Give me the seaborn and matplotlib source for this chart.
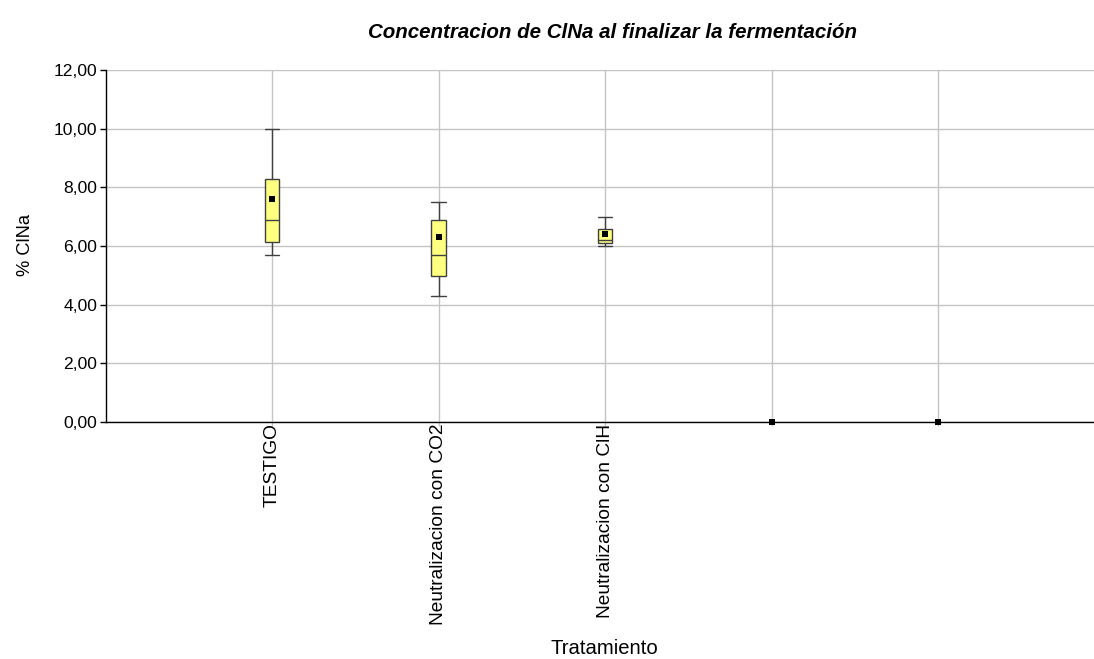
import matplotlib
matplotlib.use("Agg")
import matplotlib.pyplot as plt
import seaborn as sns
import pandas as pd

# Summary statistics per treatment
categories = ["TESTIGO", "Neutralizacion con CO2", "Neutralizacion con ClH", "", ""]
whisker_low = [5.70, 4.31, 6.01]
q1 = [6.14, 4.97, 6.11]
median = [6.89, 5.70, 6.20]
q3 = [8.28, 6.90, 6.58]
whisker_high = [10.00, 7.49, 7.00]
means = [7.60, 6.30, 6.41, 0.0, 0.0]
y_ticks = [0, 2, 4, 6, 8, 10, 12]

sns.set_theme(style="white")
plt.rcParams["font.family"] = ["Liberation Sans", "DejaVu Sans"]
plt.rcParams.update({"text.color": "black", "axes.labelcolor": "black",
                     "xtick.color": "black", "ytick.color": "black"})

fig = plt.figure(figsize=(10.94, 6.59), dpi=100)
ax = fig.add_axes([105.5 / 1094, 237 / 659, 999 / 1094, 352 / 659])

positions = list(range(1, len(categories) + 1))

stats = []
for i in range(len(q1)):
    stats.append(dict(whislo=whisker_low[i], q1=q1[i], med=median[i],
                      q3=q3[i], whishi=whisker_high[i], fliers=[]))

ax.bxp(stats, positions=positions[:len(stats)], widths=0.085,
       patch_artist=True, showfliers=False, manage_ticks=False,
       boxprops=dict(facecolor="#FFFF80", edgecolor="#404040", linewidth=1.0),
       medianprops=dict(color="#404040", linewidth=1.0),
       whiskerprops=dict(color="#404040", linewidth=1.0),
       capprops=dict(color="#404040", linewidth=1.0),
       capwidths=0.09, zorder=3)

mean_df = pd.DataFrame({"pos": positions, "mean": means})
sns.scatterplot(data=mean_df, x="pos", y="mean", marker="s", s=22,
                color="black", edgecolor="black", linewidth=0, ax=ax,
                zorder=5, clip_on=False)

ax.set_xlim(0, 6)
ax.set_ylim(0, 12)
ax.set_yticks(y_ticks)
ax.set_yticklabels([f"{v:.2f}".replace(".", ",") for v in y_ticks], fontsize=12.6)
ax.set_xticks(positions)
ax.set_xticklabels(categories, rotation=90, fontsize=13.8, va="top")

ax.grid(True, color="#c4c4c4", linewidth=1.0, zorder=0)
ax.set_axisbelow(True)
for side in ["top", "right"]:
    ax.spines[side].set_visible(False)
for side in ["left", "bottom"]:
    ax.spines[side].set_color("black")
    ax.spines[side].set_linewidth(1.0)
ax.tick_params(axis="y", which="both", left=True, length=4, width=1,
               color="black", pad=2)
ax.tick_params(axis="x", which="both", bottom=True, length=3, width=1,
               color="#c4c4c4", pad=-2)

ax.set_xlabel("Tratamiento", fontsize=14.6, va="center")
ax.xaxis.set_label_coords((604 - 105.5) / 999, -(649 - 422) / 352)
ax.set_ylabel("% ClNa", fontsize=13.2, va="center")
ax.yaxis.set_label_coords(-(105.5 - 25) / 999, (422 - 245) / 352)

fig.text(612 / 1094, 1 - 32 / 659, "Concentracion de ClNa al finalizar la fermentación",
         ha="center", va="center", fontsize=14.8, fontweight="bold", fontstyle="italic")

fig.savefig("out.png", dpi=100)
